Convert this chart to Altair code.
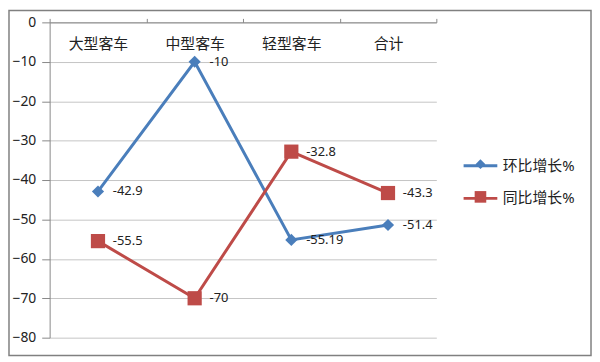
import altair as alt
import pandas as pd

categories = ["大型客车", "中型客车", "轻型客车", "合计"]
series_names = ["环比增长%", "同比增长%"]
marker_names = ["diamond", "square"]
huanbi = [-42.9, -10, -55.19, -51.4]
tongbi = [-55.5, -70, -32.8, -43.3]
huanbi_labels = ["-42.9", "-10", "-55.19", "-51.4"]
tongbi_labels = ["-55.5", "-70", "-32.8", "-43.3"]
y_ticks = [0, -10, -20, -30, -40, -50, -60, -70, -80]

rows = []
for c, v, l in zip(categories, huanbi, huanbi_labels):
    rows.append({"cat": c, "series": series_names[0], "marker": marker_names[0], "value": v, "label": l})
for c, v, l in zip(categories, tongbi, tongbi_labels):
    rows.append({"cat": c, "series": series_names[1], "marker": marker_names[1], "value": v, "label": l})
df = pd.DataFrame(rows)

FONT = "Noto Sans, Noto Sans CJK SC"
colors = ["#4A7EBB", "#BE4B48"]
shapes = ["M-1,0L0,-1L1,0L0,1Z", "M-1.17,-1.17H1.17V1.17H-1.17Z"]

x = alt.X("cat:N", sort=categories, scale=alt.Scale(paddingInner=0, paddingOuter=0),
          axis=alt.Axis(orient="top", title=None, labelAngle=0, labelFontSize=15,
                        labelFont="Noto Sans CJK SC", labelColor="#222",
                        labelBaseline="middle", labelPadding=-25, tickSize=4,
                        tickBand="extent", tickColor="#888", domainColor="#888",
                        grid=False))
y = alt.Y("value:Q", scale=alt.Scale(domain=[-80, 0], nice=False),
          axis=alt.Axis(title=None, values=y_ticks, labelFontSize=14, labelFont=FONT,
                        labelColor="#222", tickSize=8, tickColor="#888",
                        domainColor="#888", gridColor="#C4C4C4", labelPadding=6))

base = alt.Chart(df)

lines = base.mark_line(strokeWidth=3).encode(
    x=x, y=y,
    stroke=alt.Stroke("series:N", sort=series_names,
                      scale=alt.Scale(domain=series_names, range=colors),
                      legend=alt.Legend(title=None, orient="none", legendX=416, legendY=126,
                                        symbolType="stroke", symbolStrokeWidth=3,
                                        symbolSize=1156, rowPadding=6, padding=0,
                                        labelFontSize=15, labelFont=FONT,
                                        labelColor="#222", labelOffset=4)),
)

pt_legend = alt.Legend(title=None, orient="none", legendX=427, legendY=135.5,
                       symbolSize=100, rowPadding=15, padding=0,
                       labelFontSize=15, labelExpr="''", symbolOpacity=1)

points = base.mark_point(filled=True, opacity=1, size=150).encode(
    x=x, y=y,
    fill=alt.Fill("marker:N", sort=marker_names,
                  scale=alt.Scale(domain=marker_names, range=colors),
                  legend=pt_legend),
    shape=alt.Shape("marker:N", sort=marker_names,
                    scale=alt.Scale(domain=marker_names, range=shapes), legend=pt_legend),
)

texts = base.mark_text(align="left", baseline="middle", dx=15, fontSize=13,
                       font=FONT, color="#222").encode(x=x, y=y, text="label:N")

frame = alt.Chart(pd.DataFrame({"a": [0]})).mark_rect(
    fill=None, stroke="#808080", strokeWidth=1.5
).encode(x=alt.value(-41), x2=alt.value(546), y=alt.value(-12), y2=alt.value(336))

chart = alt.layer(frame, lines, points, texts).properties(
    width=390, height=318,
    autosize=alt.AutoSizeParams(type="none"),
    padding={"left": 42, "top": 13, "right": 157, "bottom": 19},
).configure_view(stroke=None)

chart.save("out.html", embed_options={"renderer": "svg", "actions": False})
